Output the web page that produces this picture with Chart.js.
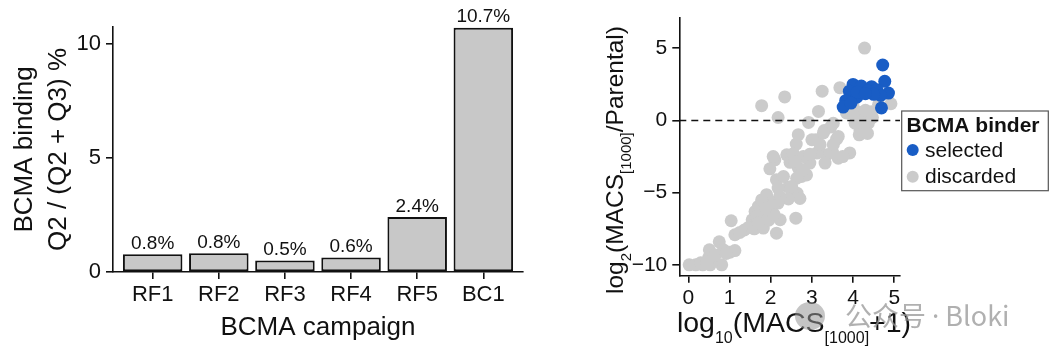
<!DOCTYPE html>
<html lang="en">
<head>
<meta charset="UTF-8" />
<title>BCMA campaign</title>
<script src="https://cdn.jsdelivr.net/npm/chart.js"></script>
<style>
  body { margin: 0; background: #fff; width: 1060px; height: 360px; overflow: hidden; position: relative; }
  canvas { position: absolute; top: 0; }
  #barChart { left: 0; }
  #scatterChart { left: 560px; }
  .wm-icon { position: absolute; left: 795px; top: 302px; width: 30px; height: 28px; border-radius: 50%; background: rgba(150,150,150,0.55); }
  .wm { position: absolute; left: 845px; top: 301px; font: 27px/27px 'Noto Sans CJK SC', 'Noto Sans', sans-serif; color: rgba(150,150,150,0.75); white-space: nowrap; }
  .wm .dot { font-family: 'Noto Sans', sans-serif; }
</style>
</head>
<body>
<canvas id="barChart" width="560" height="360"></canvas>
<canvas id="scatterChart" width="500" height="360"></canvas>
<div class="wm-icon"></div>
<div class="wm">公众号 <span class="dot">·</span> Bloki</div>

<script>
// ---- left panel: binding per campaign
const campaigns = ['RF1', 'RF2', 'RF3', 'RF4', 'RF5', 'BC1'];
const bindingPct = [0.78, 0.82, 0.5, 0.64, 2.41, 10.72];
const bindingLabels = ['0.8%', '0.8%', '0.5%', '0.6%', '2.4%', '10.7%'];
const barYTicks = [0, 5, 10];

// ---- right panel: MACS enrichment scatter
const selX = [4.72, 4.77, 4.0, 4.2, 4.45, 3.91, 4.09, 4.35, 4.58, 4.86, 4.67, 4.5, 3.82, 3.76, 4.69, 4.1, 4.3, 3.95];
const selY = [3.83, 2.7, 2.49, 2.37, 2.33, 2.02, 1.6, 2.05, 2.12, 1.89, 1.72, 1.8, 1.36, 0.92, 0.86, 1.95, 1.85, 1.2];
const disX = [4.28, 1.78, 2.34, 3.25, 3.68, 3.16, 2.18, 2.92, 4.92, 2.67, 2.62, 3.1, 3.3, 3.46, 3.6, 4.17, 4.29, 3.84, 4.17, 4.45,
  4.0, 4.25, 4.37, 4.62, 3.92, 3.64, 3.36, 3.32, 3.12, 2.95, 2.79, 2.67, 2.75, 2.87, 2.39, 2.47, 2.1, 1.98, 2.14, 2.43,
  2.64, 2.71, 2.43, 2.22, 2.18, 2.02, 1.9, 1.82, 1.7, 1.62, 1.74, 1.86, 1.55, 1.82, 1.36, 1.13, 1.04, 2.14, 2.23, 2.61,
  1.01, 1.13, 0.75, 0.51, 0.49, 0.02, 0.18, 0.35, 0.53, 0.81, 0.6, 2.55, 2.95, 3.5, 3.75, 2.59, 2.79, 2.63, 2.51, 2.06,
  2.31, 2.18, 1.95, 2.05, 1.75, 1.66, 1.95, 2.08, 1.78, 1.88, 1.46, 1.6, 1.7, 1.25, 0.85, 0.66, 0.92, 0.3, 0.45, 4.05,
  4.15, 4.35, 4.2, 4.47, 4.0, 4.3, 3.52, 3.64, 3.0, 3.28, 3.2, 3.52];
const disY = [5.0, 1.02, 1.62, 2.02, 2.26, 0.62, 0.2, -0.14, 1.15, -0.99, -1.64, -1.34, -0.7, -0.45, -1.3, -0.7, -0.45, 0.51, 0.55, 0.6,
  0.97, 0.16, -0.2, 1.1, -2.25, -2.61, -2.38, -2.95, -2.26, -2.95, -2.5, -3.3, -3.88, -3.77, -2.38, -2.9, -2.73, -3.35, -4.1, -4.62,
  -5.03, -5.4, -5.43, -5.26, -5.72, -6.3, -5.14, -5.72, -5.95, -6.3, -6.64, -6.35, -6.87, -7.45, -7.58, -7.91, -6.94, -7.8, -6.87, -6.76,
  -9.12, -9.0, -8.4, -8.95, -9.5, -9.99, -9.99, -9.99, -9.99, -9.99, -9.7, -2.3, -2.35, -2.2, -2.5, -2.84, -3.42, -4.0, -4.57, -2.5,
  -3.88, -4.68, -5.5, -5.9, -6.1, -6.65, -6.9, -6.5, -5.5, -6.05, -7.4, -7.5, -7.1, -7.75, -8.95, -9.3, -9.2, -9.85, -9.8, -0.2,
  -1.0, -0.9, 0.2, 0.2, 0.45, 0.7, -0.2, -1.11, -1.34, -0.87, -1.68, -1.68];
const refLineX = [-0.22, 5.14];
const refLineY = [0, 0];
const sctXTicks = [0, 1, 2, 3, 4, 5];
const sctYTicks = [-10, -5, 0, 5];
const legendTitle = 'BCMA binder';
const seriesNames = ['selected', 'discarded'];
const seriesColors = ['#195dc5', '#cbcbcb'];

const FONT = "'Liberation Sans', Arial, sans-serif";
const INK = '#111';
Chart.defaults.font.family = FONT;
Chart.defaults.color = INK;

const axisGrid = { display: true, drawOnChartArea: false, drawTicks: true, tickLength: 7, color: INK, lineWidth: 1.6, offset: false };
const axisBorder = { display: true, color: INK, width: 1.6 };
const fixTicks = vals => scale => { scale.ticks = vals.map(v => ({ value: v })); };

// labels above the bars
const barLabelPlugin = {
  id: 'barLabels',
  afterDatasetsDraw(chart) {
    const ctx = chart.ctx;
    ctx.save();
    ctx.font = '19px ' + FONT;
    ctx.fillStyle = INK;
    ctx.textAlign = 'center';
    ctx.textBaseline = 'alphabetic';
    chart.getDatasetMeta(0).data.forEach((bar, i) => {
      ctx.fillText(bindingLabels[i], bar.x, bar.y - 5.5);
    });
    ctx.restore();
  }
};

new Chart(document.getElementById('barChart'), {
  type: 'bar',
  data: {
    datasets: [{
      data: bindingPct.map((v, i) => ({ x: i + 1, y: v })),
      backgroundColor: '#c8c8c8',
      borderColor: INK,
      borderWidth: 2,
      borderSkipped: false,
      barPercentage: 0.9,
      categoryPercentage: 1
    }]
  },
  options: {
    responsive: false,
    animation: false,
    layout: { padding: { top: 27, right: 37, left: 0, bottom: 0 } },
    plugins: { legend: { display: false }, tooltip: { enabled: false } },
    scales: {
      x: {
        type: 'linear', min: 0.4, max: 6.6, offset: false,
        afterBuildTicks: fixTicks([1, 2, 3, 4, 5, 6]),
        afterFit: s => { s.height = 88; },
        grid: axisGrid, border: axisBorder,
        ticks: { font: { size: 22 }, padding: 3, callback: v => campaigns[v - 1] },
        title: { display: true, text: 'BCMA campaign', font: { size: 26, lineHeight: 1 }, padding: { top: 0, bottom: 19 } }
      },
      y: {
        min: 0, max: 10.75,
        afterBuildTicks: fixTicks(barYTicks),
        afterFit: s => { s.width = 113; },
        grid: axisGrid, border: axisBorder,
        ticks: { font: { size: 22 }, padding: 5 },
        title: {
          display: true, text: ['BCMA binding', 'Q2 / (Q2 + Q3) %'],
          font: { size: 26, lineHeight: 1.3 }, padding: { top: 8, bottom: 0 }
        }
      }
    }
  },
  plugins: [barLabelPlugin]
});

// text with subscripts, centred on (x, y) baseline
function drawRich(ctx, parts, x, y, size, subSize, subDy, angle) {
  ctx.save();
  ctx.translate(x, y);
  ctx.rotate(angle);
  ctx.textAlign = 'left';
  ctx.textBaseline = 'alphabetic';
  ctx.fillStyle = INK;
  const fontOf = sub => (sub ? subSize : size) + 'px ' + FONT;
  let total = 0;
  parts.forEach(([t, sub]) => { ctx.font = fontOf(sub); total += ctx.measureText(t).width; });
  let cx = -total / 2;
  parts.forEach(([t, sub]) => {
    ctx.font = fontOf(sub);
    ctx.fillText(t, cx, sub ? subDy : 0);
    cx += ctx.measureText(t).width;
  });
  ctx.restore();
}

const scatterDecor = {
  id: 'scatterDecor',
  afterDraw(chart) {
    const ctx = chart.ctx;
    drawRich(ctx, [['log', 0], ['2', 1], ['(MACS', 0], ['[1000]', 1], ['/Parental)', 0]], 63, 160, 24.5, 15, 8, -Math.PI / 2);
    drawRich(ctx, [['log', 0], ['10', 1], ['(MACS', 0], ['[1000]', 1], ['+1)', 0]], 234, 332, 28.5, 16, 10.5, 0);

    // legend
    ctx.save();
    ctx.strokeStyle = '#555';
    ctx.lineWidth = 1.2;
    ctx.strokeRect(341.7, 111, 146.6, 79.7);
    ctx.fillStyle = INK;
    ctx.textAlign = 'left';
    ctx.textBaseline = 'alphabetic';
    ctx.font = 'bold 21px ' + FONT;
    ctx.fillText(legendTitle, 346.5, 131.7);
    ctx.font = '21px ' + FONT;
    seriesNames.forEach((name, i) => {
      const cy = 150 + i * 26.7;
      ctx.beginPath();
      ctx.arc(352.7, cy, 6, 0, Math.PI * 2);
      ctx.fillStyle = seriesColors[i];
      ctx.fill();
      ctx.fillStyle = INK;
      ctx.fillText(name, 365, cy + 6.5);
    });
    ctx.restore();
  }
};

const toPts = (xs, ys) => xs.map((x, i) => ({ x, y: ys[i] }));

new Chart(document.getElementById('scatterChart'), {
  type: 'scatter',
  data: {
    datasets: [
      { data: toPts(selX, selY), backgroundColor: seriesColors[0], borderWidth: 0, pointRadius: 6.5 },
      { type: 'line', data: toPts(refLineX, refLineY), borderColor: INK, borderWidth: 1.5, borderDash: [7, 5], pointRadius: 0, fill: false },
      { data: toPts(disX, disY), backgroundColor: seriesColors[1], borderWidth: 0, pointRadius: 6.5 }
    ]
  },
  options: {
    responsive: false,
    animation: false,
    layout: { padding: { top: 18, right: 160, left: 0, bottom: 0 } },
    plugins: { legend: { display: false }, tooltip: { enabled: false } },
    scales: {
      x: {
        type: 'linear', min: -0.22, max: 5.14,
        afterBuildTicks: fixTicks(sctXTicks),
        afterFit: s => { s.height = 84.3; },
        grid: axisGrid, border: axisBorder,
        ticks: { font: { size: 21 }, padding: 3 }
      },
      y: {
        type: 'linear', min: -10.74, max: 7.08,
        afterBuildTicks: fixTicks(sctYTicks),
        afterFit: s => { s.width = 119.3; },
        grid: axisGrid, border: axisBorder,
        ticks: { font: { size: 21 }, padding: 5, callback: v => v < 0 ? '\u2212' + Math.abs(v) : String(v) }
      }
    }
  },
  plugins: [scatterDecor]
});
</script>
</body>
</html>
